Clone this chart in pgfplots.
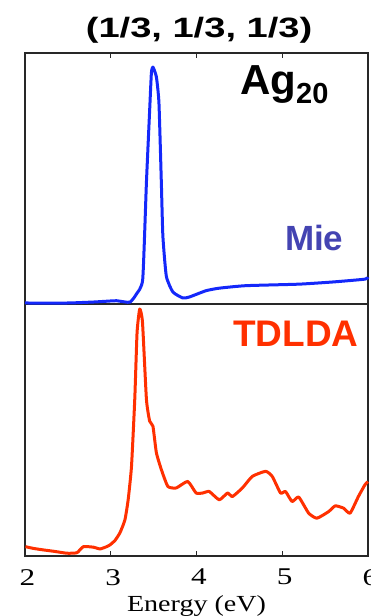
\documentclass[border=0pt]{standalone}
\usepackage{pgfplots}
\pgfplotsset{compat=1.18}
\usepackage{fontspec}
\setmainfont{Liberation Serif}
\newfontfamily\arialb{Liberation Sans}[BoldFont={Liberation Sans Bold}]
\definecolor{mieblue}{RGB}{20,40,250}
\definecolor{mietext}{RGB}{68,68,178}
\definecolor{tdred}{RGB}{255,48,0}
\definecolor{framec}{RGB}{40,40,40}
\newcommand{\sx}[1]{\scalebox{1.3}[1]{#1}}
\begin{document}
\begin{tikzpicture}
\pgfplotsset{
  every axis/.append style={
    scale only axis, width=343pt, xmin=2, xmax=6, ymin=0, ymax=1,
    ytick=\empty, xtick={2,3,4,5,6}, tick align=inside,
    major tick length=5pt,
    axis line style={framec, line width=1.1pt},
    every tick/.style={framec, line width=1pt},
    clip=false,
  }
}
% bottom axis: TDLDA
\begin{axis}[at={(0,0)}, anchor=south west, height=252pt,
  xtick pos=bottom,
  xticklabels={\sx{2},\sx{3},\sx{4},\sx{5},\sx{6}},
  xticklabel style={font=\fontsize{24}{28}\selectfont, anchor=north, inner sep=0pt, yshift=-13pt, xshift=2.5pt},
  xlabel={\scalebox{1.22}[1]{Energy (eV)}},
  xlabel style={font=\fontsize{23}{27}\selectfont, at={(axis description cs:0.5,0)}, anchor=base, inner sep=0pt, yshift=-55pt},
]
\addplot[tdred, line width=3pt, line join=round, smooth, tension=0.3] coordinates {
(2.006,0.037) (2.10,0.030) (2.218,0.024) (2.35,0.018) (2.489,0.011) (2.605,0.013)
(2.681,0.037) (2.797,0.035) (2.875,0.028) (2.952,0.037) (2.991,0.044) (3.05,0.062)
(3.107,0.092) (3.165,0.143) (3.203,0.223) (3.242,0.356) (3.280,0.622) (3.307,0.888)
(3.338,0.980) (3.370,0.928) (3.416,0.622) (3.454,0.535) (3.492,0.515) (3.532,0.410)
(3.590,0.343) (3.666,0.276) (3.764,0.270) (3.898,0.296) (3.995,0.250) (4.072,0.250)
(4.149,0.256) (4.265,0.223) (4.362,0.250) (4.419,0.236) (4.535,0.270) (4.651,0.316)
(4.806,0.336) (4.883,0.316) (4.980,0.250) (5.038,0.256) (5.115,0.216) (5.192,0.234)
(5.308,0.170) (5.404,0.150) (5.540,0.176) (5.618,0.199) (5.714,0.190) (5.791,0.170)
(5.888,0.236) (5.965,0.283) (6.0,0.295)
};
\node[anchor=base west, text=tdred, font=\arialb\bfseries\fontsize{37}{40}\selectfont, inner sep=0pt]
  at (axis cs:4.426,0.83) {TDLDA};
\end{axis}
% top axis: Mie
\begin{axis}[at={(0,252pt)}, anchor=south west, height=251pt,
  xtick pos=top, xticklabels={},
]
\addplot[mieblue, line width=3pt, line join=round, smooth, tension=0.3] coordinates {
(2.0,0.004) (2.50,0.004) (2.805,0.008) (2.95,0.011) (3.068,0.013) (3.222,0.007)
(3.300,0.040) (3.373,0.099) (3.416,0.484) (3.454,0.774) (3.474,0.921) (3.492,0.944)
(3.532,0.905) (3.562,0.802) (3.590,0.484) (3.608,0.270) (3.648,0.111) (3.724,0.048)
(3.840,0.024) (3.918,0.028) (4.111,0.053) (4.265,0.063) (4.575,0.073) (5.192,0.079)
(5.6,0.088) (5.965,0.099) (6.0,0.107)
};
\node[anchor=base west, text=mietext, font=\arialb\bfseries\fontsize{35}{38}\selectfont, inner sep=0pt]
  at (axis cs:5.03,0.215) {Mie};
\node[anchor=base west, font=\arialb\bfseries\fontsize{42}{46}\selectfont, inner sep=0pt]
  at (axis cs:4.507,0.833) {Ag\raisebox{-9pt}{\fontsize{29}{32}\selectfont 20}};
\node[anchor=base, font=\arialb\bfseries\fontsize{28}{32}\selectfont, inner sep=0pt]
  at (axis cs:4.03,1.0) [yshift=15pt] {\scalebox{1.36}[1]{(1/3, 1/3, 1/3)}};
\end{axis}
\pgfresetboundingbox
\path[use as bounding box] (-25pt,-60pt) rectangle (346pt,556pt);
\end{tikzpicture}
\end{document}
